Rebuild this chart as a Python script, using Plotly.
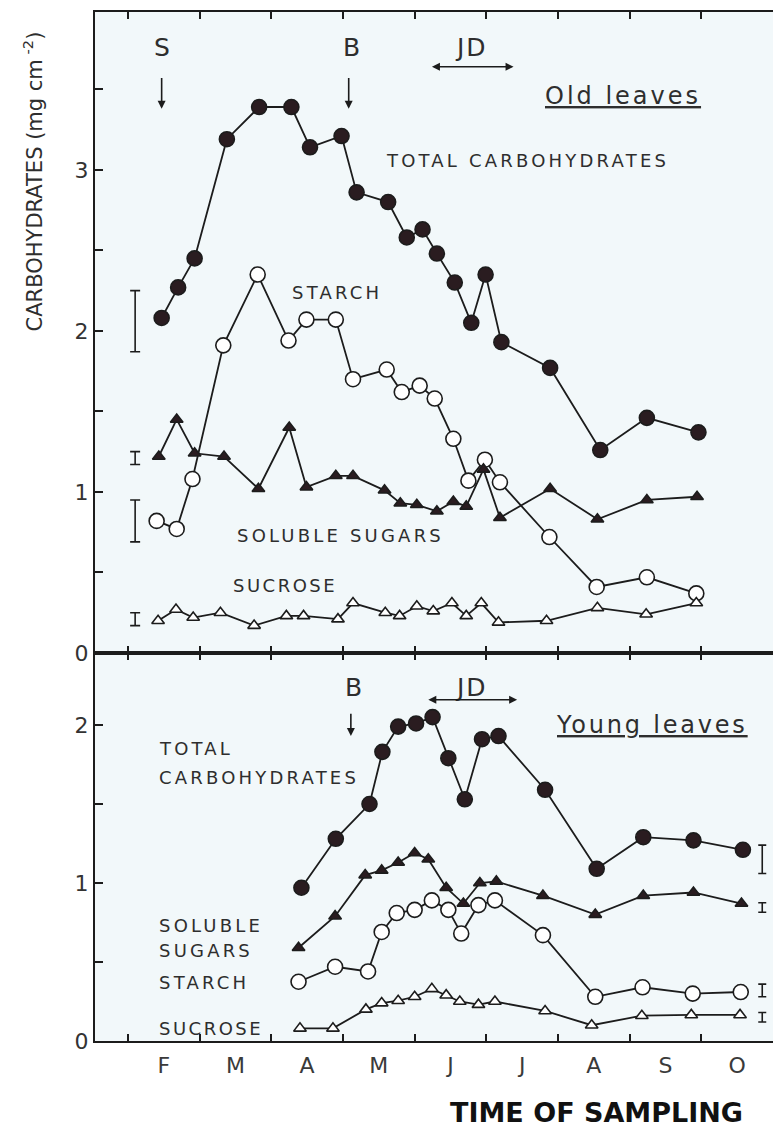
import plotly.graph_objects as go

# ---------------- data (x = months since 1 Jan; 1 = 1 Feb) ----------------
months = ["F", "M", "A", "M", "J", "J", "A", "S", "O"]
month_mid = [1.5, 2.5, 3.5, 4.5, 5.5, 6.5, 7.5, 8.5, 9.5]
month_edges = [1, 2, 3, 4, 5, 6, 7, 8, 9, 10]

# Old leaves
old_total_x = [1.47, 1.70, 1.93, 2.38, 2.83, 3.28, 3.54, 3.98, 4.19, 4.63, 4.89,
               5.11, 5.31, 5.56, 5.79, 5.99, 6.21, 6.89, 7.59, 8.24, 8.96]
old_total_y = [2.08, 2.27, 2.45, 3.19, 3.39, 3.39, 3.14, 3.21, 2.86, 2.80, 2.58,
               2.63, 2.48, 2.30, 2.05, 2.35, 1.93, 1.77, 1.26, 1.46, 1.37]

old_starch_x = [1.40, 1.68, 1.90, 2.33, 2.81, 3.24, 3.49, 3.90, 4.14, 4.61, 4.82,
                5.07, 5.28, 5.54, 5.75, 5.98, 6.19, 6.88, 7.54, 8.24, 8.93]
old_starch_y = [0.82, 0.77, 1.08, 1.91, 2.35, 1.94, 2.07, 2.07, 1.70, 1.76, 1.62,
                1.66, 1.58, 1.33, 1.07, 1.20, 1.06, 0.72, 0.41, 0.47, 0.37]

old_sol_x = [1.43, 1.68, 1.93, 2.34, 2.82, 3.25, 3.49, 3.90, 4.14, 4.58, 4.80,
             5.03, 5.31, 5.54, 5.72, 5.96, 6.19, 6.89, 7.55, 8.24, 8.94]
old_sol_y = [1.22, 1.45, 1.24, 1.22, 1.02, 1.40, 1.03, 1.10, 1.10, 1.01, 0.93,
             0.92, 0.88, 0.94, 0.91, 1.14, 0.84, 1.02, 0.83, 0.95, 0.97]

old_suc_x = [1.42, 1.67, 1.91, 2.29, 2.76, 3.21, 3.45, 3.93, 4.14, 4.59, 4.79,
             5.03, 5.26, 5.52, 5.72, 5.93, 6.17, 6.84, 7.55, 8.23, 8.93]
old_suc_y = [0.20, 0.27, 0.22, 0.25, 0.17, 0.23, 0.23, 0.21, 0.31, 0.25, 0.23,
             0.29, 0.26, 0.31, 0.23, 0.31, 0.19, 0.20, 0.28, 0.24, 0.31]

old_err_x = [1.10, 1.10, 1.10, 1.10]
old_err_y = [2.06, 1.21, 0.82, 0.21]
old_err_h = [0.19, 0.04, 0.13, 0.04]

# Young leaves
young_total_x = [3.42, 3.90, 4.37, 4.55, 4.77, 5.02, 5.25, 5.47, 5.70, 5.94, 6.17,
                 6.82, 7.54, 8.19, 8.89, 9.58]
young_total_y = [0.97, 1.28, 1.50, 1.83, 1.99, 2.01, 2.05, 1.79, 1.53, 1.91, 1.93,
                 1.59, 1.09, 1.29, 1.27, 1.21]

young_sol_x = [3.38, 3.89, 4.31, 4.54, 4.77, 5.00, 5.19, 5.44, 5.68, 5.91, 6.14,
               6.79, 7.52, 8.19, 8.89, 9.56]
young_sol_y = [0.59, 0.79, 1.05, 1.08, 1.13, 1.19, 1.15, 0.97, 0.87, 1.00, 1.01,
               0.92, 0.80, 0.92, 0.94, 0.87]

young_starch_x = [3.38, 3.89, 4.35, 4.54, 4.75, 5.00, 5.24, 5.47, 5.65, 5.89, 6.12,
                  6.79, 7.52, 8.18, 8.88, 9.55]
young_starch_y = [0.375, 0.47, 0.44, 0.69, 0.81, 0.83, 0.89, 0.83, 0.68, 0.86, 0.89,
                  0.67, 0.28, 0.34, 0.30, 0.31]

young_suc_x = [3.40, 3.86, 4.32, 4.54, 4.77, 5.00, 5.24, 5.44, 5.63, 5.89, 6.12,
               6.82, 7.47, 8.17, 8.86, 9.54]
young_suc_y = [0.08, 0.08, 0.20, 0.24, 0.255, 0.28, 0.33, 0.29, 0.25, 0.23, 0.25,
               0.19, 0.10, 0.16, 0.165, 0.165]

young_err_x = [9.85, 9.85, 9.85, 9.85]
young_err_y = [1.15, 0.845, 0.32, 0.15]
young_err_h = [0.09, 0.03, 0.04, 0.03]

# ---------------- styling ----------------
INK = "#1c1c1c"
TXT = "#2e2e2e"
FILL = "#2a1c20"
FONT = "DejaVu Sans, Liberation Sans, sans-serif"
XR = [0.54, 10.0]

fig = go.Figure()


def add_series(x, y, symbol, filled, size, xa, ya):
    fig.add_trace(go.Scatter(
        x=x, y=y, mode="lines+markers", xaxis=xa, yaxis=ya, showlegend=False,
        line=dict(color=INK, width=1.8),
        marker=dict(symbol=symbol, size=size,
                    color=FILL if filled else "white",
                    line=dict(color=INK, width=1.6)),
    ))


# upper panel (old leaves)
add_series(old_total_x, old_total_y, "circle", True, 15, "x2", "y2")
add_series(old_starch_x, old_starch_y, "circle", False, 15, "x2", "y2")
add_series(old_sol_x, old_sol_y, "triangle-up", True, 11, "x2", "y2")
add_series(old_suc_x, old_suc_y, "triangle-up", False, 11, "x2", "y2")
# lower panel (young leaves)
add_series(young_total_x, young_total_y, "circle", True, 15, "x", "y")
add_series(young_sol_x, young_sol_y, "triangle-up", True, 11, "x", "y")
add_series(young_starch_x, young_starch_y, "circle", False, 15, "x", "y")
add_series(young_suc_x, young_suc_y, "triangle-up", False, 11, "x", "y")

# error bars
for ex, ey, eh, xa, ya, w in [(old_err_x, old_err_y, old_err_h, "x2", "y2", 5),
                              (young_err_x, young_err_y, young_err_h, "x", "y", 4)]:
    fig.add_trace(go.Scatter(
        x=ex, y=ey, mode="markers", xaxis=xa, yaxis=ya, showlegend=False,
        marker=dict(size=1, color="rgba(0,0,0,0)"),
        error_y=dict(type="data", array=eh, visible=True, color=INK,
                     thickness=1.6, width=w),
    ))

# empty trace so that the month-label axis (x3) is drawn
fig.add_trace(go.Scatter(x=month_mid, y=[None] * len(month_mid), xaxis="x3",
                         yaxis="y", mode="markers", showlegend=False,
                         hoverinfo="skip"))

SPLIT = 0.3771

axis_common = dict(showgrid=False, zeroline=False, showline=True,
                   linecolor=INK, linewidth=2, tickcolor=INK, tickwidth=1.5)

fig.update_layout(
    width=773, height=1128,
    margin=dict(l=95, r=0, t=12, b=87),
    paper_bgcolor="white",
    plot_bgcolor="#f2f8fa",
    font=dict(family=FONT, color=TXT),
    xaxis=dict(domain=[0, 1], anchor="y", range=XR, tickvals=month_edges,
               ticks="inside", ticklen=7, showticklabels=False, mirror="ticks",
               **axis_common),
    xaxis3=dict(overlaying="x", anchor="y", range=XR, tickvals=month_mid,
                ticktext=months, ticks="", showline=False, showgrid=False,
                zeroline=False, side="bottom", ticklabelstandoff=9,
                tickfont=dict(size=22, color="#3a3a3a")),
    xaxis2=dict(domain=[0, 1], anchor="y2", range=XR, tickvals=month_edges,
                ticks="inside", ticklen=7, showticklabels=False, mirror="ticks",
                **axis_common),
    yaxis=dict(domain=[0, SPLIT], anchor="x", range=[0, 2.456],
               tickvals=[0, 0.5, 1, 1.5, 2], ticktext=["0", "", "1", "", "2"],
               ticks="inside", ticklen=8, tickfont=dict(size=22, color="#333"),
               **axis_common),
    yaxis2=dict(domain=[SPLIT, 1], anchor="x2", range=[0, 3.98],
                tickvals=[0, 0.5, 1, 1.5, 2, 2.5, 3, 3.5],
                ticktext=["0", "", "1", "", "2", "", "3", ""],
                ticks="inside", ticklen=8, tickfont=dict(size=22, color="#333"),
                **axis_common),
)

ann = []


def label(text, x, y, xa, ya, size=18, xanchor="center", spacing=3.2, **kw):
    ann.append(dict(text=f'<span style="letter-spacing:{spacing}px">{text}</span>',
                    x=x, y=y, xref=xa, yref=ya, showarrow=False,
                    xanchor=xanchor, yanchor="middle",
                    font=dict(size=size, color=TXT, family=FONT, **kw)))


def arrow(x0, y0, x1, y1, xa, ya, both=False):
    ann.append(dict(text="", x=x1, y=y1, ax=x0, ay=y0, xref=xa, yref=ya,
                    axref=xa, ayref=ya, showarrow=True, arrowhead=2,
                    arrowsize=1, arrowwidth=1.6, arrowcolor=INK,
                    arrowside="end+start" if both else "end",
                    startarrowhead=2, startarrowsize=1))


# upper panel annotations
label("S", 1.47, 3.76, "x2", "y2", size=25, spacing=0)
arrow(1.47, 3.58, 1.47, 3.38, "x2", "y2")
label("B", 4.12, 3.76, "x2", "y2", size=25, spacing=0)
arrow(4.08, 3.58, 4.08, 3.38, "x2", "y2")
label("JD", 5.80, 3.76, "x2", "y2", size=25, spacing=2)
arrow(5.22, 3.64, 6.38, 3.64, "x2", "y2", both=True)
label("Old leaves", 7.91, 3.46, "x2", "y2", size=24, spacing=3,
      lineposition="under")
label("TOTAL CARBOHYDRATES", 6.57, 3.06, "x2", "y2")
label("STARCH", 3.92, 2.24, "x2", "y2")
label("SOLUBLE SUGARS", 3.96, 0.73, "x2", "y2")
label("SUCROSE", 3.19, 0.42, "x2", "y2", spacing=2.5)

# lower panel annotations
label("B", 4.14, 2.24, "x", "y", size=25, spacing=0)
arrow(4.11, 2.08, 4.11, 1.93, "x", "y")
label("JD", 5.80, 2.24, "x", "y", size=25, spacing=2)
arrow(5.17, 2.16, 6.43, 2.16, "x", "y", both=True)
label("Young leaves", 8.31, 2.00, "x", "y", size=24, spacing=2.8,
      lineposition="under")
label("TOTAL", 1.40, 1.85, "x", "y", xanchor="left")
label("CARBOHYDRATES", 1.40, 1.67, "x", "y", xanchor="left")
label("SOLUBLE", 1.40, 0.73, "x", "y", xanchor="left")
label("SUGARS", 1.40, 0.57, "x", "y", xanchor="left")
label("STARCH", 1.40, 0.37, "x", "y", xanchor="left")
label("SUCROSE", 1.40, 0.08, "x", "y", xanchor="left", spacing=2.5)

# axis titles
ann.append(dict(text="CARBOHYDRATES (mg cm<sup> -2</sup>)", textangle=-90,
                x=-0.092, y=0.835, xref="paper", yref="paper", showarrow=False,
                xanchor="center", yanchor="middle",
                font=dict(size=21, color=TXT, family=FONT)))
ann.append(dict(text="<b>TIME OF SAMPLING</b>", x=0.739, y=-0.069,
                xref="paper", yref="paper", showarrow=False,
                xanchor="center", yanchor="middle",
                font=dict(size=27, color="#111", family=FONT)))

fig.update_layout(annotations=ann)

fig.write_html("out.html")
